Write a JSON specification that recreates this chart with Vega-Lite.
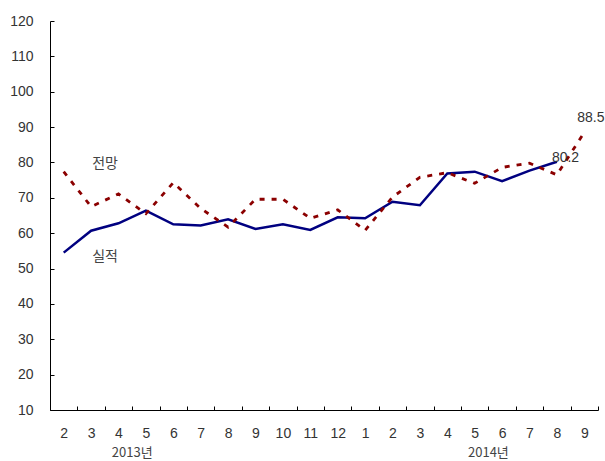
{
  "$schema": "https://vega.github.io/schema/vega-lite/v6.json",
  "width": 548,
  "height": 389,
  "autosize": "none",
  "padding": {"left": 50, "top": 21, "right": 7, "bottom": 51},
  "background": "white",
  "config": {
    "view": {"stroke": null},
    "font": "Noto Sans CJK KR",
    "axis": {"grid": false, "title": null, "domainColor": "#000", "tickColor": "#000",
             "labelFontSize": 14, "labelColor": "#333", "labelFont": "Liberation Sans"}
  },
  "datasets": {
    "series": [
      {"ym": "2013-02", "actual": 54.5, "forecast": 77.4},
      {"ym": "2013-03", "actual": 60.7, "forecast": 67.5},
      {"ym": "2013-04", "actual": 62.8, "forecast": 71.1},
      {"ym": "2013-05", "actual": 66.4, "forecast": 65.5},
      {"ym": "2013-06", "actual": 62.5, "forecast": 74.3},
      {"ym": "2013-07", "actual": 62.2, "forecast": 67.0},
      {"ym": "2013-08", "actual": 63.9, "forecast": 61.7},
      {"ym": "2013-09", "actual": 61.2, "forecast": 69.6},
      {"ym": "2013-10", "actual": 62.5, "forecast": 69.6},
      {"ym": "2013-11", "actual": 60.9, "forecast": 64.2},
      {"ym": "2013-12", "actual": 64.5, "forecast": 66.6},
      {"ym": "2014-01", "actual": 64.2, "forecast": 60.8},
      {"ym": "2014-02", "actual": 68.9, "forecast": 70.2},
      {"ym": "2014-03", "actual": 67.9, "forecast": 75.8},
      {"ym": "2014-04", "actual": 76.9, "forecast": 77.1},
      {"ym": "2014-05", "actual": 77.4, "forecast": 74.1},
      {"ym": "2014-06", "actual": 74.7, "forecast": 78.6},
      {"ym": "2014-07", "actual": 77.7, "forecast": 79.8},
      {"ym": "2014-08", "actual": 80.2, "forecast": 76.5},
      {"ym": "2014-09", "actual": null, "forecast": 88.5}
    ],
    "names": [
      {"ym": "2013-03", "v": 79.6, "label": "전망"},
      {"ym": "2013-03", "v": 53.3, "label": "실적"}
    ],
    "years": [
      {"ym": "2013-05", "v": 10, "label": "2013년", "off": -10},
      {"ym": "2014-05", "v": 10, "label": "2014년", "off": -6}
    ]
  },
  "layer": [
    {
      "data": {"name": "series"},
      "mark": {"type": "line", "color": "#000080", "strokeWidth": 2.5},
      "encoding": {
        "x": {
          "field": "ym", "type": "ordinal", "sort": null,
          "scale": {"type": "band", "paddingInner": 0, "paddingOuter": 0},
          "axis": {
            "labelAngle": 0, "tickBand": "extent", "labelPadding": 20, "tickSize": -4,
            "labelExpr": "datum.value ? toNumber(substring(datum.value, 5)) : ''"
          }
        },
        "y": {
          "field": "actual", "type": "quantitative",
          "scale": {"domain": [10, 120], "nice": false, "zero": false},
          "axis": {
            "tickCount": 12, "labelOverlap": false, "labelSeparation": 0,
            "tickSize": -4, "labelPadding": 21
          }
        }
      }
    },
    {
      "data": {"name": "series"},
      "mark": {"type": "line", "color": "#8b0000", "strokeWidth": 2.8, "strokeDash": [5, 7]},
      "encoding": {
        "x": {"field": "ym", "type": "ordinal", "sort": null},
        "y": {"field": "forecast", "type": "quantitative"}
      }
    },
    {
      "data": {"name": "series"},
      "transform": [{"filter": "datum.ym == '2014-08'"}],
      "mark": {"type": "text", "align": "left", "baseline": "middle", "dx": -5, "dy": -4, "fontSize": 14, "color": "#333", "font": "Liberation Sans"},
      "encoding": {
        "x": {"field": "ym", "type": "ordinal", "sort": null},
        "y": {"field": "actual", "type": "quantitative"},
        "text": {"field": "actual", "type": "quantitative", "format": ".1f"}
      }
    },
    {
      "data": {"name": "series"},
      "transform": [{"filter": "datum.ym == '2014-09'"}],
      "mark": {"type": "text", "align": "left", "baseline": "middle", "dx": -7, "dy": -14, "fontSize": 14, "color": "#333", "font": "Liberation Sans"},
      "encoding": {
        "x": {"field": "ym", "type": "ordinal", "sort": null},
        "y": {"field": "forecast", "type": "quantitative"},
        "text": {"field": "forecast", "type": "quantitative", "format": ".1f"}
      }
    },
    {
      "data": {"name": "names"},
      "mark": {"type": "text", "align": "center", "baseline": "middle", "dx": 14, "fontSize": 14, "color": "#444"},
      "encoding": {
        "x": {"field": "ym", "type": "ordinal", "sort": null},
        "y": {"field": "v", "type": "quantitative"},
        "text": {"field": "label"}
      }
    },
    {
      "data": {"name": "years"},
      "mark": {"type": "text", "align": "center", "baseline": "middle", "dy": 43, "fontSize": 13, "color": "#444"},
      "encoding": {
        "x": {"field": "ym", "type": "ordinal", "sort": null},
        "y": {"field": "v", "type": "quantitative"},
        "xOffset": {"field": "off", "type": "quantitative", "scale": {"type": "identity"}},
        "text": {"field": "label"}
      }
    }
  ]
}
